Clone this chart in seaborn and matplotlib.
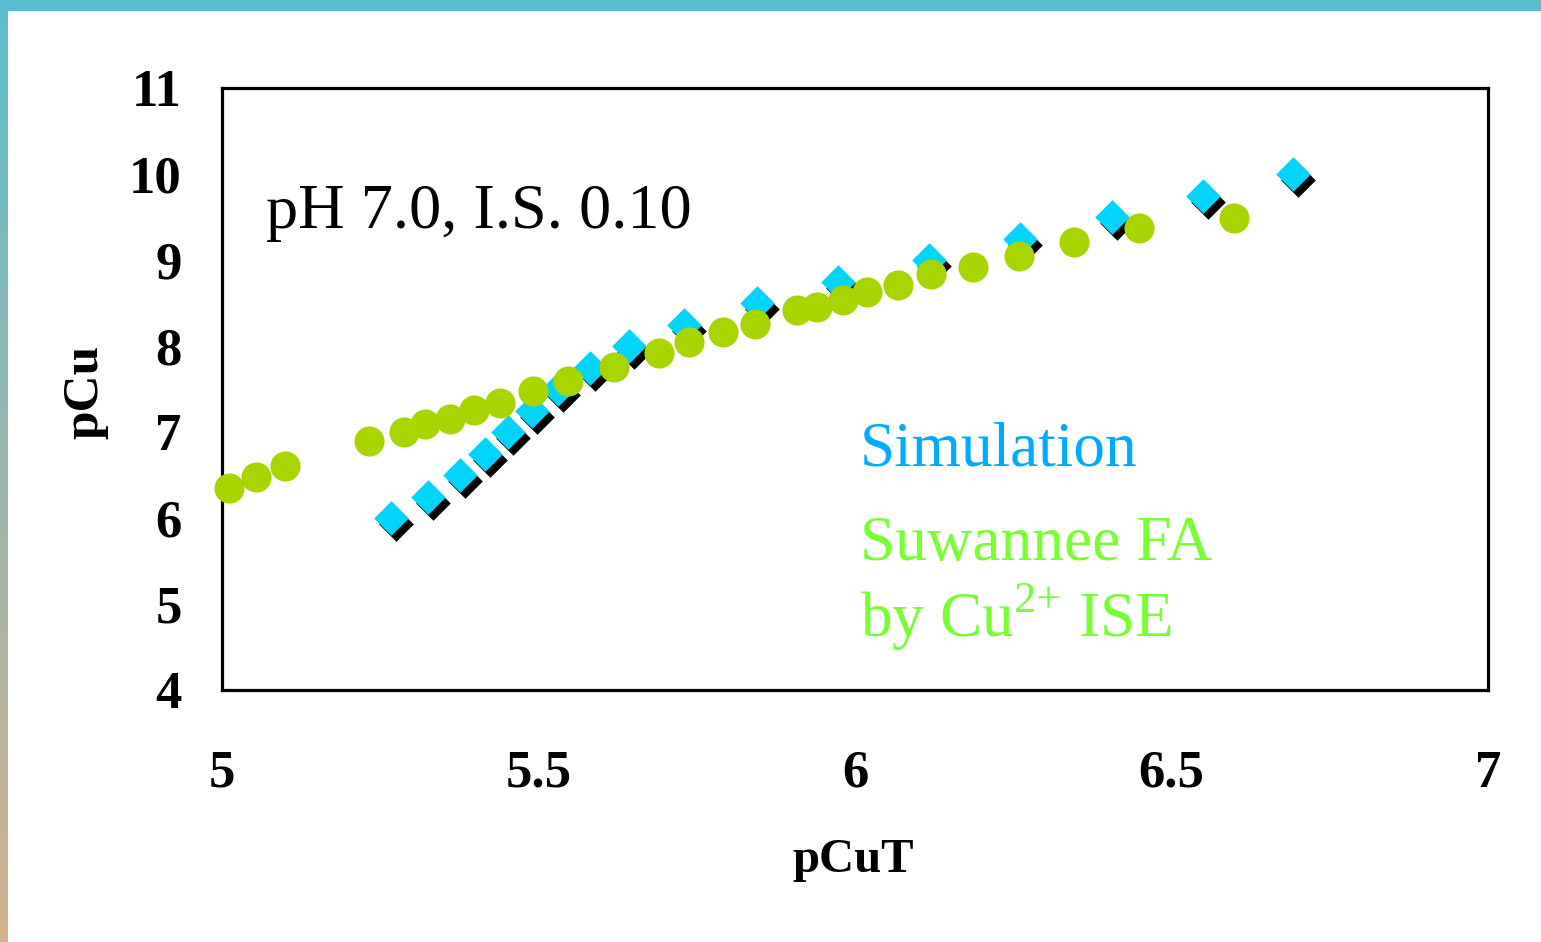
import numpy as np
import pandas as pd
import matplotlib
matplotlib.use("Agg")
import matplotlib.pyplot as plt
import matplotlib.transforms as mtransforms
import seaborn as sns

# Simulation (diamonds)
sim_pcut = [5.267, 5.325, 5.376, 5.415, 5.452, 5.490, 5.531, 5.581, 5.643,
            5.730, 5.845, 5.973, 6.117, 6.261, 6.406, 6.550, 6.692]
sim_pcu = [6.0, 6.25, 6.5, 6.75, 7.0, 7.25, 7.5, 7.75, 8.0,
           8.25, 8.5, 8.75, 9.0, 9.25, 9.5, 9.75, 10.0]

# Suwannee FA by Cu2+ ISE (circles)
ise_pcut = [5.011, 5.054, 5.100, 5.232, 5.288, 5.321, 5.360, 5.398, 5.439,
            5.491, 5.547, 5.619, 5.690, 5.738, 5.791, 5.842, 5.908, 5.940,
            5.981, 6.019, 6.068, 6.120, 6.186, 6.259, 6.346, 6.449, 6.599]
ise_pcu = [6.35, 6.48, 6.60, 6.90, 7.00, 7.09, 7.15, 7.26, 7.34,
           7.48, 7.59, 7.76, 7.92, 8.05, 8.16, 8.26, 8.42, 8.45,
           8.53, 8.63, 8.71, 8.84, 8.92, 9.05, 9.21, 9.37, 9.49]

xticks = [5, 5.5, 6, 6.5, 7]
xtick_labels = ["5", "5.5", "6", "6.5", "7"]
yticks = [4, 5, 6, 7, 8, 9, 10, 11]

sim_df = pd.DataFrame({"pCuT": sim_pcut, "pCu": sim_pcu})
ise_df = pd.DataFrame({"pCuT": ise_pcut, "pCu": ise_pcu})

sns.set_style("white")
plt.rcParams["font.family"] = ["Liberation Serif", "DejaVu Serif"]
plt.rcParams["mathtext.fontset"] = "custom"
plt.rcParams["mathtext.rm"] = "Liberation Serif"

W, H = 1541, 942
fig = plt.figure(figsize=(W / 100, H / 100), dpi=100)
fig.patch.set_facecolor("white")

# slide-style border: teal bar on top, gradient bar on the left
grad = np.linspace(0, 1, 256).reshape(-1, 1)
cmap = matplotlib.colors.LinearSegmentedColormap.from_list("edge", ["#5dbdd0", "#d6b28c"])
edge_ax = fig.add_axes([0, 0, 8 / W, 1])
edge_ax.imshow(grad, aspect="auto", cmap=cmap)
edge_ax.axis("off")
fig.patches.append(plt.Rectangle((0, 1 - 10 / H), 1, 10 / H, transform=fig.transFigure,
                                 color="#5dbdd0", zorder=5))

ax = fig.add_axes([222 / W, 1 - 690 / H, (1488 - 222) / W, (690 - 88) / H])

# shadow of diamonds, shifted down-right
sns.scatterplot(data=sim_df, x="pCuT", y="pCu", marker="D", s=310,
                color="black", linewidth=0, ax=ax, zorder=3)
shadow_coll = ax.collections[-1]
shadow_coll.set_offset_transform(
    ax.transData + mtransforms.ScaledTranslation(5 / 100, -6 / 100, fig.dpi_scale_trans))

sns.scatterplot(data=sim_df, x="pCuT", y="pCu", marker="D", s=310,
                color="#00d4fa", linewidth=0, ax=ax, zorder=4)
sns.scatterplot(data=ise_df, x="pCuT", y="pCu", marker="o", s=470,
                color="#a8d400", linewidth=0, ax=ax, zorder=5, clip_on=False)

ax.set_xlim(5, 7)
ax.set_ylim(4, 11)
ax.set_xticks(xticks)
ax.set_xticklabels(xtick_labels)
ax.set_yticks(yticks)
ax.set_xlabel("")
ax.set_ylabel("")

for sp in ax.spines.values():
    sp.set_visible(True)
    sp.set_linewidth(2.3)
    sp.set_color("black")

ax.tick_params(axis="both", direction="out", color="#555555", width=1.0,
               labelcolor="black")
ax.tick_params(axis="y", length=11, pad=18, labelsize=38)
ax.tick_params(axis="x", length=13, pad=30, labelsize=38)
for lab in ax.get_xticklabels() + ax.get_yticklabels():
    lab.set_fontweight("bold")

fig.text(853 / W, 1 - 860 / H, "pCuT", fontsize=35, fontweight="bold",
         ha="center", va="center", color="black")
fig.text(85 / W, 1 - 392 / H, "pCu", fontsize=37, fontweight="bold",
         ha="center", va="center", rotation=90, color="black")

fig.text(266 / W, 1 - 228 / H, "pH 7.0, I.S. 0.10", fontsize=46.3,
         ha="left", va="baseline", color="black")
fig.text(860 / W, 1 - 465 / H, "Simulation", fontsize=45.5,
         ha="left", va="baseline", color="#00aaff")
fig.text(860 / W, 1 - 560 / H, "Suwannee FA", fontsize=45.5,
         ha="left", va="baseline", color="#77ff33")
fig.text(860 / W, 1 - 637 / H, r"by Cu$^{2{+}}$ ISE", fontsize=45.5,
         ha="left", va="baseline", color="#77ff33")

fig.savefig("out.png", dpi=100)
